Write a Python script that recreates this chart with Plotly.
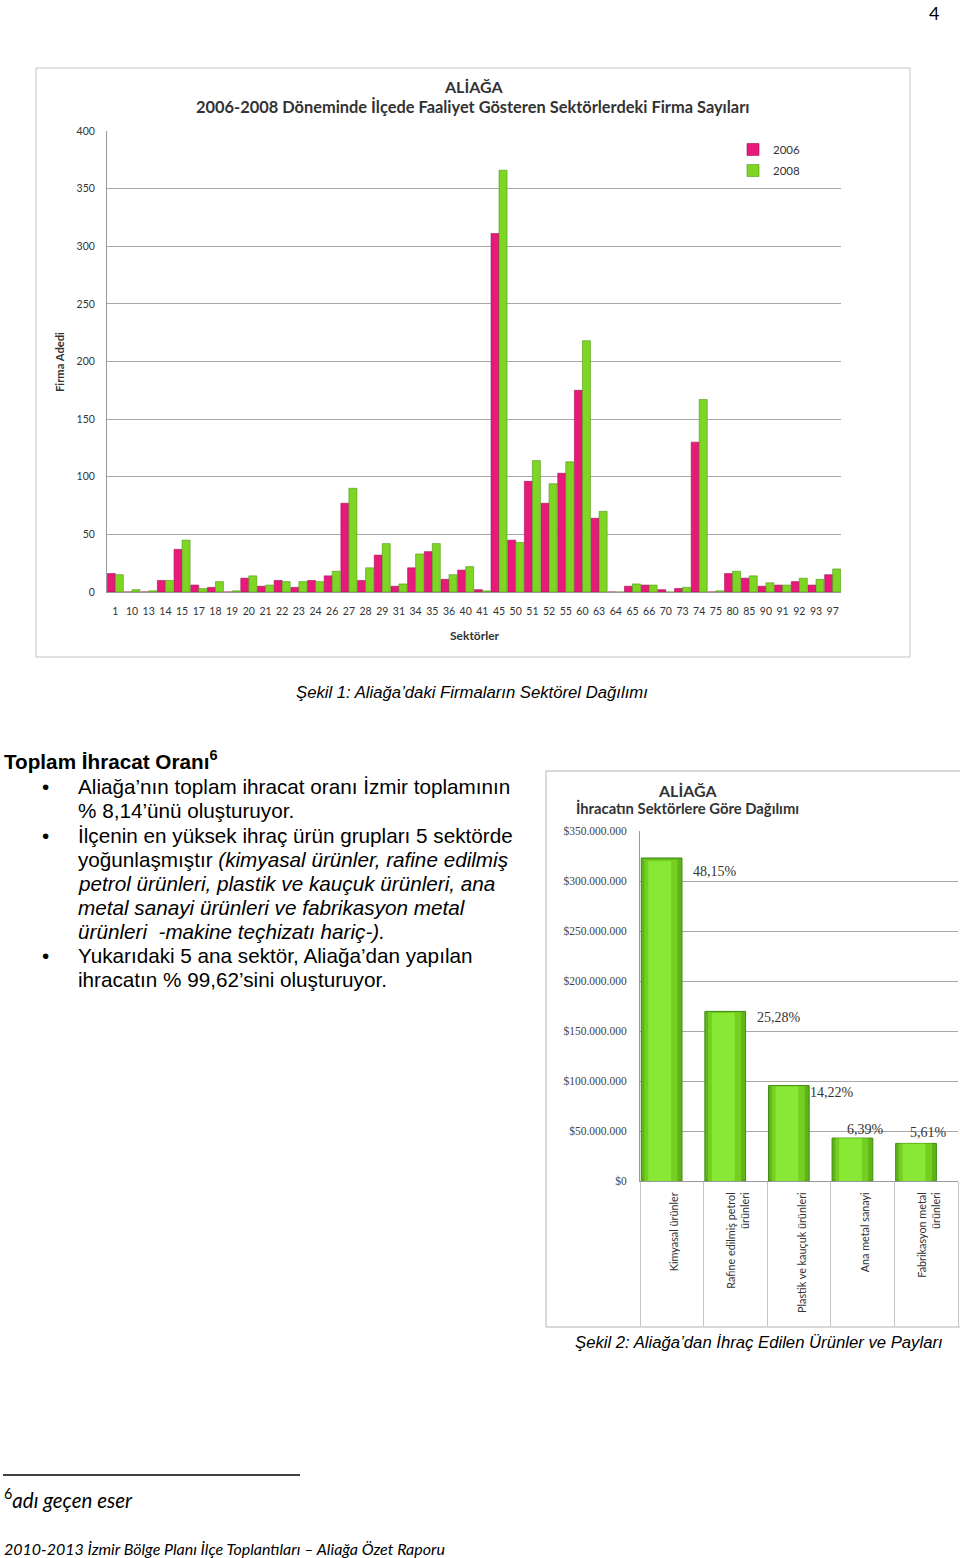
import plotly.graph_objects as go

# ---------------- Data: chart 1 ----------------
sectors = ["1", "10", "13", "14", "15", "17", "18", "19", "20", "21", "22", "23", "24", "26",
           "27", "28", "29", "31", "34", "35", "36", "40", "41", "45", "50", "51", "52", "55",
           "60", "63", "64", "65", "66", "70", "73", "74", "75", "80", "85", "90", "91", "92",
           "93", "97"]
firms_2006 = [16, 0, 0, 10, 37, 6, 4, 0, 12, 5, 10, 4, 10, 14,
              77, 10, 32, 5, 21, 35, 11, 19, 2, 311, 45, 96, 77, 103,
              175, 64, 0, 5, 6, 2, 3, 130, 0, 16, 12, 5, 6, 9,
              6, 15]
firms_2008 = [15, 2, 1, 10, 45, 3, 9, 1, 14, 6, 9, 9, 9, 18,
              90, 21, 42, 7, 33, 42, 15, 22, 1, 366, 43, 114, 94, 113,
              218, 70, 0, 7, 6, 0, 4, 167, 1, 18, 14, 8, 6, 12,
              11, 20]

# ---------------- Data: chart 2 ----------------
export_sectors = ["Kimyasal ürünler", "Rafine edilmiş petrol<br>ürünleri",
                  "Plastik ve kauçuk ürünleri", "Ana metal sanayi",
                  "Fabrikasyon metal<br>ürünleri"]
export_values = [323e6, 169.6e6, 95.4e6, 42.9e6, 37.6e6]
export_shares = [48.15, 25.28, 14.22, 6.39, 5.61]

W, H = 960, 1558


def px(x):
    return x / W


def py(y):
    return 1 - y / H


PINK = "#e8197a"
PINK_EDGE = "#a3104f"
GREEN = "#7fd524"
GREEN_EDGE = "#4c9812"

fig = go.Figure()

fig.add_trace(go.Bar(x=sectors, y=firms_2006, name="2006", xaxis="x", yaxis="y",
                     legendgroup="a",
                     marker=dict(color=PINK, line=dict(color=PINK_EDGE, width=0.6))))
fig.add_trace(go.Bar(x=sectors, y=firms_2008, name="2008", xaxis="x", yaxis="y",
                     legendgroup="b",
                     marker=dict(color=GREEN, line=dict(color=GREEN_EDGE, width=0.6))))

# chart 2 bars (layered to imitate the shaded look)
idx = list(range(len(export_values)))
fig.add_trace(go.Bar(x=idx, y=export_values, xaxis="x2", yaxis="y2", showlegend=False,
                     offset=0.02, width=0.64,
                     marker=dict(color="#5fb418", line=dict(color="#3f8a10", width=1))))
fig.add_trace(go.Bar(x=idx, y=[v * 0.995 for v in export_values], xaxis="x2", yaxis="y2",
                     showlegend=False, offset=0.07, width=0.52,
                     marker=dict(color="#74cf22", line=dict(width=0))))
fig.add_trace(go.Bar(x=idx, y=[v * 0.99 for v in export_values], xaxis="x2", yaxis="y2",
                     showlegend=False, offset=0.13, width=0.36,
                     marker=dict(color="#88e834", line=dict(width=0))))

axis_font = dict(family="Lato", size=10.5, color="#333333")

fig.update_layout(
    width=W, height=H,
    margin=dict(l=0, r=0, t=0, b=0, autoexpand=False),
    paper_bgcolor="white", plot_bgcolor="white",
    barmode="group", bargap=0.04, bargroupgap=0.0,
    separators=",.",
    showlegend=True,
    legend=dict(x=px(733), y=py(135), xanchor="left", yanchor="top",
                font=dict(family="Lato", size=11.5, color="#333333"),
                itemwidth=30, bgcolor="rgba(0,0,0,0)", tracegroupgap=2),
    xaxis=dict(domain=[px(107), px(841)], anchor="y", type="category",
               tickangle=0, tickfont=axis_font, showline=True, linecolor="#9a9a9a",
               ticks="", ticklabelstandoff=9, showgrid=False, fixedrange=True),
    yaxis=dict(domain=[py(592), py(131)], anchor="x", range=[0, 400], dtick=50,
               tickfont=axis_font, showline=True, linecolor="#9a9a9a",
               gridcolor="#a8a8a8", gridwidth=1, ticks="", ticklabelstandoff=9,
               zeroline=False),
    xaxis2=dict(domain=[px(640), px(958)], anchor="y2", range=[0, 5],
                tickmode="array", tickvals=[i + 0.55 for i in idx], ticktext=export_sectors,
                tickangle=-90, tickfont=dict(family="Lato", size=10.8, color="#333333"),
                ticks="", ticklabelstandoff=6, showline=True, linecolor="#9a9a9a",
                showgrid=False, zeroline=False,
                minor=dict(tickmode="array", tickvals=[0, 1, 2, 3, 4, 5], ticks="outside",
                           ticklen=144, tickcolor="#c4c4c4", tickwidth=1, showgrid=False)),
    yaxis2=dict(domain=[py(1181), py(831)], anchor="x2", range=[0, 350e6], dtick=50e6,
                tickprefix="$", tickformat=",d",
                tickfont=dict(family="Liberation Serif", size=11.5, color="#444444"),
                showline=True, linecolor="#9a9a9a", gridcolor="#a8a8a8", ticks="",
                ticklabelstandoff=10, zeroline=False),
)

shapes = [
    dict(type="rect", xref="paper", yref="paper", x0=px(36), x1=px(910), y0=py(657), y1=py(68),
         line=dict(color="#c4c4c4", width=1), fillcolor="rgba(0,0,0,0)", layer="below"),
    dict(type="rect", xref="paper", yref="paper", x0=px(546), x1=px(975), y0=py(1327), y1=py(771),
         line=dict(color="#b4b4b4", width=1), fillcolor="rgba(0,0,0,0)", layer="below"),
    dict(type="line", xref="paper", yref="paper", x0=px(3), x1=px(300), y0=py(1475), y1=py(1475),
         line=dict(color="black", width=1.3)),
]
fig.update_layout(shapes=shapes)

ann = []


def add_text(text, x, y, size, family="Liberation Sans", color="black", xanchor="left",
             yanchor="middle", angle=0):
    ann.append(dict(text=text, x=px(x), y=py(y), xref="paper", yref="paper",
                    xanchor=xanchor, yanchor=yanchor, showarrow=False, textangle=angle,
                    font=dict(family=family, size=size, color=color)))


# page number
add_text("4", 934, 0, 18, family="Lato", xanchor="center", yanchor="top")

# chart 1 titles
add_text("<b>ALİAĞA</b>", 473, 87, 16, family="Lato", color="#333333", xanchor="center")
add_text("<b>2006-2008 Döneminde İlçede Faaliyet Gösteren Sektörlerdeki Firma Sayıları</b>",
         472, 107, 16.4, family="Lato", color="#333333", xanchor="center")
add_text("<b>Firma Adedi</b>", 60, 362, 11.2, family="Lato", color="#333333",
         xanchor="center", angle=-90)
add_text("<b>Sektörler</b>", 475, 635, 12, family="Lato", color="#333333", xanchor="center")

# caption 1
add_text("<i>Şekil 1: Aliağa’daki Firmaların Sektörel Dağılımı</i>", 472, 692, 16.7,
         xanchor="center")

# text block
BODY = 20.7
add_text("<b>Toplam İhracat Oranı<sup>6</sup></b>", 2, 760, BODY)
bullets = [786, 835, 955]
for by in bullets:
    add_text("•", 45, by, BODY, xanchor="center")
lines = [
    (786, "Aliağa’nın toplam ihracat oranı İzmir toplamının"),
    (810, "% 8,14’ünü oluşturuyor."),
    (835, "İlçenin en yüksek ihraç ürün grupları 5 sektörde"),
    (859, "yoğunlaşmıştır <i>(kimyasal ürünler, rafine edilmiş</i>"),
    (883, "<i>petrol ürünleri, plastik ve kauçuk ürünleri, ana</i>"),
    (907, "<i>metal sanayi ürünleri ve fabrikasyon metal</i>"),
    (931, "<i>ürünleri  -makine teçhizatı hariç-).</i>"),
    (955, "Yukarıdaki 5 ana sektör, Aliağa’dan yapılan"),
    (979, "ihracatın % 99,62’sini oluşturuyor."),
]
for ly, t in lines:
    add_text(t, 76, ly, BODY)

# chart 2 titles
add_text("<b>ALİAĞA</b>", 687, 790, 16, family="Lato", color="#333333", xanchor="center")
add_text("<b>İhracatın Sektörlere Göre Dağılımı</b>", 687, 808, 14.8, family="Lato",
         color="#333333", xanchor="center")

# chart 2 data labels (placed beside the bars)
label_dx = [0.80, 0.81, 0.64, 0.22, 0.21]
label_dy = [-13, -6, -7, 9, 11]
for i, (v, s) in enumerate(zip(export_values, export_shares)):
    ann.append(dict(text=f"{s:.2f}".replace(".", ",") + "%", x=i + label_dx[i], y=v,
                    xref="x2", yref="y2", xanchor="left", yanchor="middle",
                    yshift=label_dy[i], showarrow=False,
                    font=dict(family="Liberation Serif", size=14, color="#333333")))

# caption 2
add_text("<i>Şekil 2: Aliağa’dan İhraç Edilen Ürünler ve Payları</i>", 759, 1342, 16.7,
         xanchor="center")

# footnote and footer
add_text("<sup>6</sup><i>adı geçen eser</i>", 2, 1498, 20.5, family="Lato")
add_text("<i>2010-2013 İzmir Bölge Planı İlçe Toplantıları – Aliağa Özet Raporu</i>", 2, 1548,
         16, family="Lato")

fig.update_layout(annotations=ann)

fig.write_html("out.html")
